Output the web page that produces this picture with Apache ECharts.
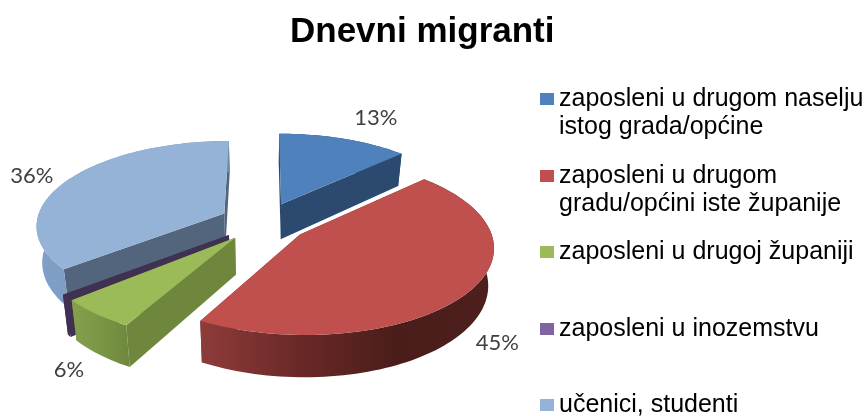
<!DOCTYPE html>
<html lang="hr">
<head>
<meta charset="UTF-8">
<title>Dnevni migranti</title>
<script src="https://cdn.jsdelivr.net/npm/echarts@6/dist/echarts.min.js"></script>
<style>
    html, body { margin: 0; padding: 0; background: #fff; }
    #container { width: 868px; height: 416px; }
</style>
</head>
<body>
<div id="container"></div>
<script type="text/javascript">
    var categories = [
        'zaposleni u drugom naselju\nistog grada/općine',
        'zaposleni u drugom\ngradu/općini iste županije',
        'zaposleni u drugoj županiji',
        'zaposleni u inozemstvu',
        'učenici, studenti'
    ];
    var values = [12.9, 45.1, 5.8, 0.4, 35.8];

    var topColors = ['#4f81bd', '#c0504d', '#9bbb59', '#403152', '#95b3d7'];
    var legendColors = ['#4f81bd', '#c0504d', '#9bbb59', '#8064a2', '#95b3d7'];
    var wallColors = ['#2c4a6f', '#7a302e', '#6f873c', '#403152', '#53657c'];
    var rimColors = [
        ['#2c4a6f', '#2c4a6f'],
        ['#8e3c3a', '#6a2927', '#4a1d1b', '#4d1f1d'],
        ['#84a14c', '#7b9646', '#6f873c'],
        ['#403152', '#403152'],
        ['#81a0c8', '#6d8ab0']
    ];
    // back slices first
    var paintOrder = [4, 0, 3, 2, 1];
    var legendTops = [57, 134, 238, 315, 391];
    var labelShift = [[32, -21], [29, 51], [-27, 56], [0, 0], [-36, -4]];

    // pie geometry in pixels
    var cx = 264, cy = 222, rx = 188, ry = 84;
    var persp = 0.13, explode = 0.237, depth = 36, bottomShrink = 0.975;

    var total = values.reduce(function (a, b) { return a + b; }, 0);

    function sliceAngles(i) {
        var before = 0;
        for (var k = 0; k < i; k++) before += values[k];
        var a0 = before / total * Math.PI * 2;
        return [a0, a0 + values[i] / total * Math.PI * 2];
    }

    // disc point -> screen, y grows toward the viewer
    function project(x, y, down) {
        var s = 1 / (1 - persp * y);
        return [cx + rx * x * s * (down ? bottomShrink : 1), cy + ry * y * s + (down ? depth * s : 0)];
    }

    function renderSlice(params, api) {
        var i = params.seriesIndex;
        var ang = sliceAngles(i);
        var mid = (ang[0] + ang[1]) / 2;
        var ox = Math.sin(mid) * explode, oy = -Math.cos(mid) * explode;
        var n = Math.max(2, Math.ceil((ang[1] - ang[0]) / 0.03));
        var arcTop = [], arcBottom = [];
        for (var k = 0; k <= n; k++) {
            var a = ang[0] + (ang[1] - ang[0]) * k / n;
            var px = ox + Math.sin(a), py = oy - Math.cos(a);
            arcTop.push(project(px, py, false));
            arcBottom.push(project(px, py, true));
        }
        var apexTop = project(ox, oy, false), apexBottom = project(ox, oy, true);
        var rimFill = new echarts.graphic.LinearGradient(0, 0, 1, 0, rimColors[i].map(function (c, j) {
            return { offset: j / (rimColors[i].length - 1), color: c };
        }));
        var children = [
            { type: 'polygon', shape: { points: [apexTop, arcTop[0], arcBottom[0], apexBottom] }, style: { fill: wallColors[i] } },
            { type: 'polygon', shape: { points: [apexTop, arcTop[n], arcBottom[n], apexBottom] }, style: { fill: wallColors[i] } },
            { type: 'polygon', shape: { points: arcTop.concat(arcBottom.slice().reverse()) }, style: { fill: rimFill } },
            { type: 'polygon', shape: { points: [apexTop].concat(arcTop) }, style: { fill: topColors[i] } }
        ];
        if (values[i] >= 1) {
            var edge = project(ox + Math.sin(mid), oy - Math.cos(mid), false);
            children.push({
                type: 'text',
                z2: 100,
                style: {
                    x: edge[0] + labelShift[i][0],
                    y: edge[1] + labelShift[i][1],
                    text: Math.round(values[i]) + '%',
                    fill: '#404040',
                    font: '22px Lato',
                    align: 'center',
                    verticalAlign: 'middle'
                }
            });
        }
        return { type: 'group', children: children };
    }

    var dom = document.getElementById('container');
    var myChart = echarts.init(dom, null, { renderer: 'canvas' });

    var option = {
        animation: false,
        title: {
            text: 'Dnevni migranti',
            left: 285,
            top: 10,
            textStyle: { fontFamily: 'Liberation Sans', fontSize: 35, fontWeight: 'bold', color: '#000' }
        },
        // one legend per entry, the gaps in the picture are uneven
        legend: categories.map(function (name, i) {
            return {
                data: [name],
                left: 540,
                top: legendTops[i],
                padding: 0,
                icon: 'rect',
                itemWidth: 14,
                itemHeight: 12,
                itemGap: 0,
                selectedMode: false,
                itemStyle: { color: legendColors[i] },
                // blank first line keeps the swatch level with the first text line
                formatter: function (n) { return n.indexOf('\n') >= 0 ? '\n' + n : n; },
                textStyle: {
                    fontFamily: 'Liberation Sans',
                    fontSize: 25,
                    lineHeight: 28,
                    color: '#000'
                }
            };
        }),
        series: categories.map(function (name, i) {
            return {
                name: name,
                type: 'custom',
                coordinateSystem: 'none',
                z: 2 + paintOrder.indexOf(i),
                renderItem: renderSlice,
                itemStyle: { color: legendColors[i] },
                data: [[values[i]]]
            };
        })
    };
    myChart.setOption(option);
    window.addEventListener('resize', myChart.resize);
</script>
</body>
</html>
